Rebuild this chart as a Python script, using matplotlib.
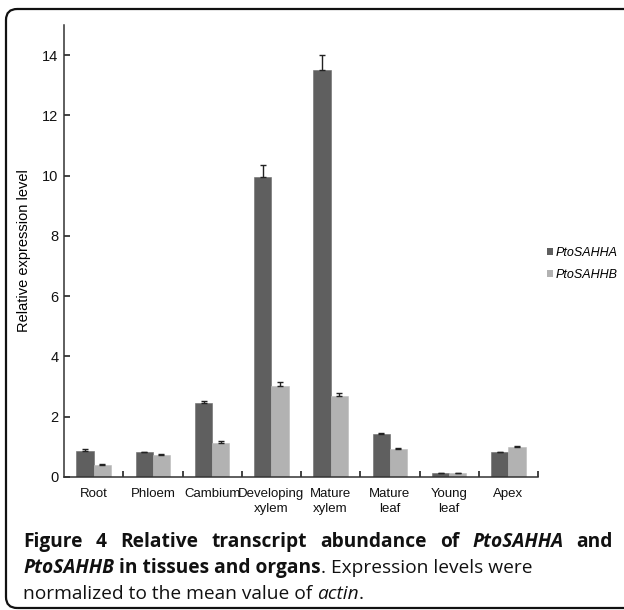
import matplotlib
matplotlib.use("Agg")
import matplotlib.pyplot as plt
import numpy as np
from matplotlib.patches import FancyBboxPatch, Patch

# ---- data ----
categories = ["Root", "Phloem", "Cambium", "Developing\nxylem", "Mature\nxylem",
              "Mature\nleaf", "Young\nleaf", "Apex"]
series_names = ["PtoSAHHA", "PtoSAHHB"]
sahha = [0.87, 0.82, 2.44, 9.95, 13.50, 1.43, 0.12, 0.82]
sahha_err = [0.05, 0.02, 0.09, 0.40, 0.52, 0.02, 0.01, 0.02]
sahhb = [0.41, 0.73, 1.13, 3.02, 2.70, 0.94, 0.12, 1.00]
sahhb_err = [0.03, 0.02, 0.06, 0.13, 0.09, 0.03, 0.01, 0.02]
yticks = [0, 2, 4, 6, 8, 10, 12, 14]
ylabel = "Relative expression level"

W, H = 624, 610
fig = plt.figure(figsize=(W / 100, H / 100), dpi=100)
fig.patch.set_facecolor("white")

# rounded border box
box = FancyBboxPatch((6 / W, 2 / H), 660 / W, 599 / H,
                     boxstyle="round,pad=0,rounding_size=0.018",
                     transform=fig.transFigure, fill=False,
                     edgecolor="#111111", linewidth=1.6, clip_on=False)
fig.patches.append(box)

ax = fig.add_axes([64 / W, 1 - 477 / H, (538 - 64) / W, (477 - 25) / H])
x = np.arange(len(categories))
bw = 0.29
c_dark = "#5f5f5f"
c_light = "#b2b2b2"
ax.bar(x - bw / 2, sahha, bw, color=c_dark, edgecolor="#6a6a6a", linewidth=0.4,
       label=series_names[0], zorder=2)
ax.bar(x + bw / 2, sahhb, bw, color=c_light, edgecolor="#bbbbbb", linewidth=0.4,
       label=series_names[1], zorder=2)
ax.errorbar(x - bw / 2, sahha, yerr=[np.zeros(len(x)), sahha_err], fmt="none",
            ecolor="#222222", elinewidth=1.0, capsize=2.5, capthick=1.0, zorder=3)
ax.errorbar(x + bw / 2, sahhb, yerr=[np.zeros(len(x)), sahhb_err], fmt="none",
            ecolor="#222222", elinewidth=1.0, capsize=2.5, capthick=1.0, zorder=3)

ax.set_xlim(-0.5, len(categories) - 0.5)
ax.set_ylim(0, 15)
ax.set_yticks(yticks)
ax.set_xticks(x)
tick_font = dict(family=["Liberation Sans", "DejaVu Sans"])
ax.set_xticklabels(categories, fontsize=9.5, linespacing=1.3, **tick_font)
ax.set_yticklabels([str(v) for v in yticks], fontsize=10.5, **tick_font)
ax.set_xticks(np.arange(0.5, len(categories), 1.0), minor=True)
ax.tick_params(axis="x", which="major", length=0, pad=8, colors="#111111")
ax.tick_params(axis="x", which="minor", direction="in", length=4, width=1.2, color="#222222")
ax.tick_params(axis="y", direction="in", length=4, width=1.2, color="#222222",
               pad=4, labelcolor="#111111")
for s in ["top", "right"]:
    ax.spines[s].set_visible(False)
for s in ["left", "bottom"]:
    ax.spines[s].set_linewidth(1.1)
    ax.spines[s].set_color("#333333")
ax.set_ylabel(ylabel, fontsize=10.5, labelpad=8, **tick_font)

handles = [Patch(facecolor=c_dark), Patch(facecolor=c_light)]
fig.legend(handles, series_names, loc="center left",
           bbox_to_anchor=(536 / W, 1 - 264 / H), frameon=False,
           handlelength=0.45, handleheight=0.45, handletextpad=0.25,
           labelspacing=0.85,
           prop=dict(family="Liberation Sans", style="italic", size=9))

# ---- caption ----
fig.canvas.draw()
r = fig.canvas.get_renderer()
cap_fs = 13.8
fam = ["Open Sans", "DejaVu Sans"]
styles = {
    "b": dict(weight="bold", style="normal"),
    "bi": dict(weight="bold", style="italic"),
    "r": dict(weight="normal", style="normal"),
    "i": dict(weight="normal", style="italic"),
}


def tw(s, st):
    t = fig.text(0, 0, s, fontsize=cap_fs, family=fam, **styles[st])
    w = t.get_window_extent(r).width
    t.remove()
    return w


def place(x0, y, s, st):
    fig.text(x0 / W, 1 - y / H, s, fontsize=cap_fs, family=fam, va="baseline",
             ha="left", color="#111111", **styles[st])


# line 1: justified
line1 = [("Figure", "b"), ("4", "b"), ("Relative", "b"), ("transcript", "b"),
         ("abundance", "b"), ("of", "b"), ("PtoSAHHA", "bi"), ("and", "b")]
x_left, x_right = 23, 613
widths = [tw(s, st) for s, st in line1]
gap = (x_right - x_left - sum(widths)) / (len(line1) - 1)
xx = x_left
for (s, st), w in zip(line1, widths):
    place(xx, 547, s, st)
    xx += w + gap


def run(pieces, y):
    xx = x_left
    for s, st in pieces:
        place(xx, y, s, st)
        xx += tw(s, st)


run([("PtoSAHHB", "bi"), (" in tissues and organs", "b"),
     (". Expression levels were", "r")], 573)
run([("normalized to the mean value of ", "r"), ("actin", "i"), (".", "r")], 599)

fig.savefig("out.png", dpi=100, facecolor="white")
